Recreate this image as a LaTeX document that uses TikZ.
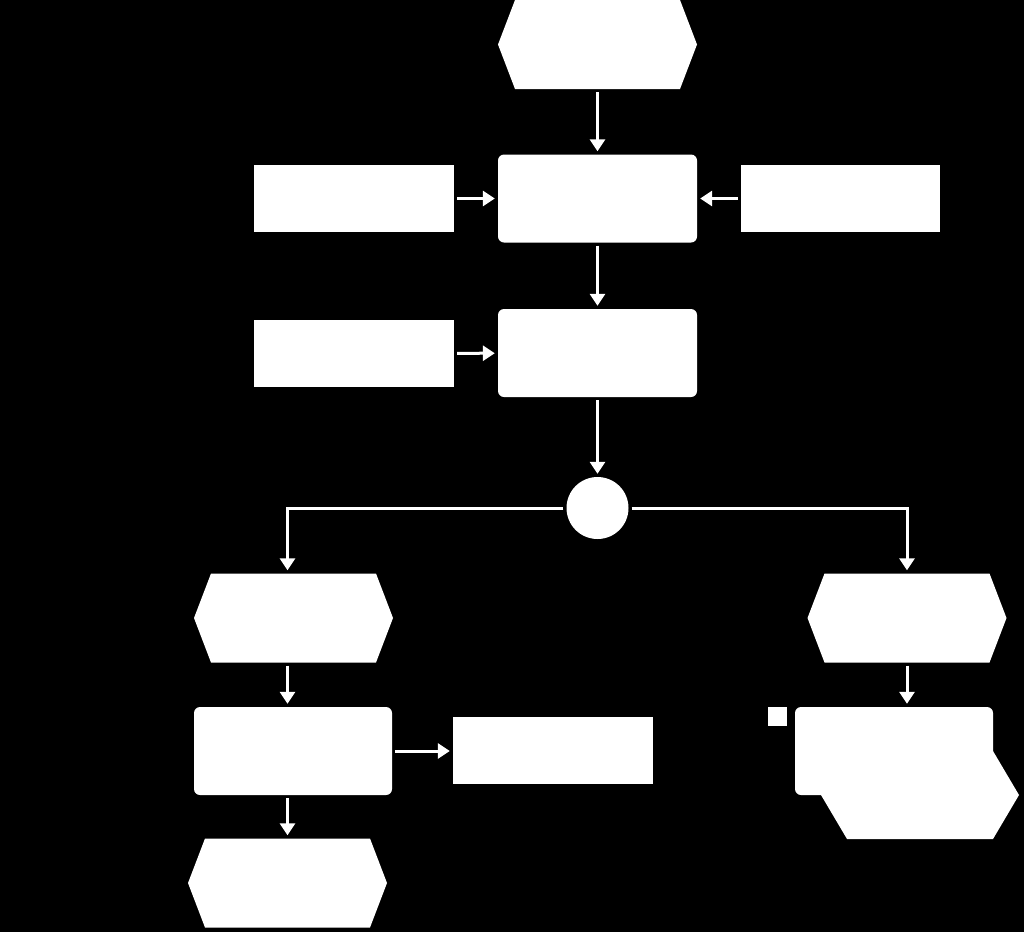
\documentclass[tikz,border=0pt]{standalone}
\usepackage{tikz}
\usetikzlibrary{arrows,arrows.meta}

\begin{document}
\begin{tikzpicture}[
x=1pt,y=-1pt,
event/.style={minimum width=199pt,minimum height=89pt,inner sep=0pt,fill=black,
  path picture={\fill[white] ([xshift=#1]path picture bounding box.north west)
    -- ([xshift=-#1]path picture bounding box.north east)
    -- (path picture bounding box.east)
    -- ([xshift=-#1]path picture bounding box.south east)
    -- ([xshift=#1]path picture bounding box.south west)
    -- (path picture bounding box.west) -- cycle;}},
event/.default=17pt,
func/.style={fill=white,rounded corners=6pt,minimum width=199pt,minimum height=88pt,inner sep=0pt},
info/.style={fill=white,minimum width=200pt,minimum height=67pt,inner sep=0pt},
conn/.style={circle,fill=white,minimum size=62pt,inner sep=0pt},
arrow/.style={-{Triangle[length=12pt,width=15pt]},white,line width=3pt,shorten >=3pt,shorten <=3pt} ]

\fill[black] (0,0) rectangle (1024,932);
\useasboundingbox (0,0) rectangle (1024,932);

\node[event](E1) at (597.5,44.5) {};

\node[func](F1) at (597.5,198.5) {};

\node[info](I1) at (354,198.5) {};

\node[info,minimum width=199pt](I2) at (840.5,198.5) {};

\node[func](F2) at (597.5,353) {};

\node[info](I3) at (354,353.5) {};

\node[conn](X1) at (597.5,508) {};

\node[event](E2) at (293.5,618) {};

\node[func,minimum width=198pt](F3) at (293,751) {};

\node[info](I4) at (553,750.5) {};

\node[event](E3) at (287.5,883) {};

\node[event](E4) at (907,618) {};

\node[event=26pt,minimum width=198pt,minimum height=88pt](E5) at (920,795) {};

\node[func,minimum width=198pt](F4) at (894,751) {};

\node[fill=white,minimum size=19pt,inner sep=0pt](S1) at (777.5,716.5) {};

\draw[arrow] (E1) -- (F1);

\draw[arrow] (I1) -- (F1);

\draw[arrow] (I2) -- (F1);

\draw[arrow] (F1) -- (F2);

\draw[arrow] (I3) -- (F2);

\draw[arrow] (F2) -- (X1);

\draw[arrow] (X1.west) -| ([xshift=-6pt]E2.north);

\draw[arrow] (X1.east) -| (E4.north);

\draw[arrow] ([xshift=-6pt]E2.south) -- ([xshift=-6pt]E2.south |- F3.north);

\draw[arrow] (F3.east) -- (F3.east -| I4.west);

\draw[arrow] (F3.south -| E3.north) -- (E3.north);

\draw[arrow] (E4.south) -- (E4.south |- F4.north);
\end{tikzpicture}
\end{document}
